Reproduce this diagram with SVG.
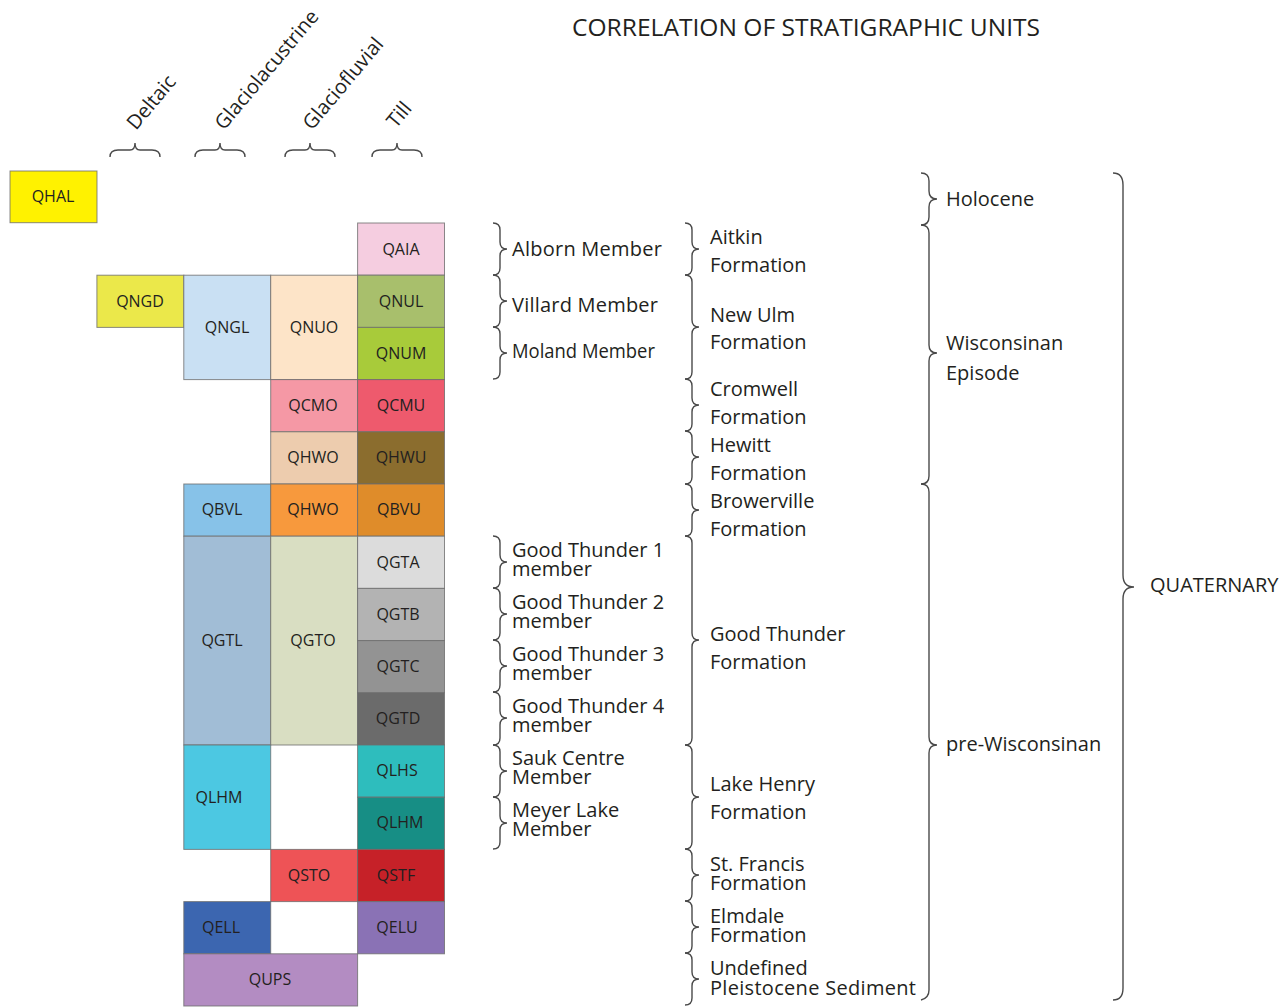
<svg xmlns="http://www.w3.org/2000/svg" width="1282" height="1008" viewBox="0 0 1282 1008">
<style>
text{font-family:"Open Sans","Liberation Sans",sans-serif;fill:#231f20}
.u rect{stroke:#6d6d6d;stroke-width:1;stroke-opacity:0.8}
.u text{font-size:16px;text-anchor:middle}
.b{fill:none;stroke:#4a4a4a;stroke-width:1.4}
.h{font-size:20px}
.m{font-size:20px}
</style>
<rect width="1282" height="1008" fill="#fff"/>
<text x="572" y="36" font-size="24" textLength="468" lengthAdjust="spacingAndGlyphs">CORRELATION OF STRATIGRAPHIC UNITS</text>
<g id="headers">
<text class="h" transform="translate(136,131) rotate(-50)">Deltaic</text>
<text class="h" transform="translate(224,131) rotate(-50)">Glaciolacustrine</text>
<text class="h" transform="translate(312,131) rotate(-50)">Glaciofluvial</text>
<text class="h" transform="translate(396,129) rotate(-50)">Till</text>
</g>
<g id="connectors">
<path class="b" d="M110,157 Q110,150 118,150 L130,150 Q135,150 135,143 Q135,150 140,150 L152,150 Q160,150 160,157"/>
<path class="b" d="M195,157 Q195,150 203,150 L215,150 Q220,150 220,143 Q220,150 225,150 L237,150 Q245,150 245,157"/>
<path class="b" d="M285,157 Q285,150 293,150 L305,150 Q310,150 310,143 Q310,150 315,150 L327,150 Q335,150 335,157"/>
<path class="b" d="M372,157 Q372,150 380,150 L392,150 Q397,150 397,143 Q397,150 402,150 L414,150 Q422,150 422,157"/>
<path class="b" d="M493,223 Q500,223 500,230 L500,242 Q500,249 507,249 Q500,249 500,256 L500,268 Q500,275 493,275"/>
<path class="b" d="M493,275 Q500,275 500,282 L500,294 Q500,301 507,301 Q500,301 500,308 L500,320 Q500,327 493,327"/>
<path class="b" d="M493,327 Q500,327 500,334 L500,346 Q500,353 507,353 Q500,353 500,360 L500,372 Q500,379 493,379"/>
<path class="b" d="M493,536 Q500,536 500,543 L500,555 Q500,562 507,562 Q500,562 500,569 L500,581 Q500,588 493,588"/>
<path class="b" d="M493,588 Q500,588 500,595 L500,607 Q500,614 507,614 Q500,614 500,621 L500,633 Q500,640 493,640"/>
<path class="b" d="M493,640 Q500,640 500,647 L500,659 Q500,666 507,666 Q500,666 500,673 L500,685 Q500,692 493,692"/>
<path class="b" d="M493,692 Q500,692 500,699 L500,711 Q500,718 507,718 Q500,718 500,725 L500,738 Q500,745 493,745"/>
<path class="b" d="M493,745 Q500,745 500,752 L500,764 Q500,771 507,771 Q500,771 500,778 L500,790 Q500,797 493,797"/>
<path class="b" d="M493,797 Q500,797 500,804 L500,816 Q500,823 507,823 Q500,823 500,830 L500,842 Q500,849 493,849"/>
<path class="b" d="M685,223 Q692,223 692,230 L692,242 Q692,249 699,249 Q692,249 692,256 L692,268 Q692,275 685,275"/>
<path class="b" d="M685,275 Q692,275 692,282 L692,320 Q692,327 699,327 Q692,327 692,334 L692,372 Q692,379 685,379"/>
<path class="b" d="M685,379 Q692,379 692,386 L692,398 Q692,405 699,405 Q692,405 692,412 L692,424 Q692,431 685,431"/>
<path class="b" d="M685,431 Q692,431 692,438 L692,450 Q692,457 699,457 Q692,457 692,464 L692,477 Q692,484 685,484"/>
<path class="b" d="M685,484 Q692,484 692,491 L692,503 Q692,510 699,510 Q692,510 692,517 L692,529 Q692,536 685,536"/>
<path class="b" d="M685,536 Q692,536 692,543 L692,633 Q692,640 699,640 Q692,640 692,647 L692,738 Q692,745 685,745"/>
<path class="b" d="M685,745 Q692,745 692,752 L692,790 Q692,797 699,797 Q692,797 692,804 L692,842 Q692,849 685,849"/>
<path class="b" d="M685,849 Q692,849 692,856 L692,868 Q692,875 699,875 Q692,875 692,882 L692,894 Q692,901 685,901"/>
<path class="b" d="M685,901 Q692,901 692,908 L692,920 Q692,927 699,927 Q692,927 692,934 L692,946 Q692,953 685,953"/>
<path class="b" d="M685,953 Q692,953 692,960 L692,972 Q692,979 699,979 Q692,979 692,986 L692,998 Q692,1005 685,1005"/>
<path class="b" d="M921,173 Q929,173 929,181 L929,191 Q929,199 937,199 Q929,199 929,207 L929,217 Q929,225 921,225"/>
<path class="b" d="M921,225 Q929,225 929,233 L929,345 Q929,353 937,353 Q929,353 929,361 L929,476 Q929,484 921,484"/>
<path class="b" d="M921,484 Q929,484 929,492 L929,737 Q929,745 937,745 Q929,745 929,753 L929,990 Q929,998 921,1000"/>
<path class="b" d="M1113,173 Q1123,173 1123,185 L1123,575 Q1123,587 1134,587 Q1123,587 1123,599 L1123,988 Q1123,1000 1113,1000"/>
</g>
<g class="u">
<g id="QHAL"><rect x="10" y="171" width="87" height="51.7" fill="#fff200"/><text x="53" y="202">QHAL</text></g>
<g id="QAIA"><rect x="357.6" y="223" width="86.9" height="52.2" fill="#f5cde0"/><text x="401" y="254.5">QAIA</text></g>
<g id="QNGD"><rect x="96.9" y="275.2" width="86.9" height="52.2" fill="#ebe84a"/><text x="140" y="306.5">QNGD</text></g>
<g id="QNGL"><rect x="183.8" y="275.2" width="86.9" height="104.4" fill="#c9e0f3"/><text x="227" y="332.5">QNGL</text></g>
<g id="QNUO"><rect x="270.7" y="275.2" width="86.9" height="104.4" fill="#fde4c8"/><text x="314" y="332.5">QNUO</text></g>
<g id="QNUL"><rect x="357.6" y="275.2" width="86.9" height="52.2" fill="#a8bf6c"/><text x="401" y="306.5">QNUL</text></g>
<g id="QNUM"><rect x="357.6" y="327.4" width="86.9" height="52.2" fill="#a8cb3a"/><text x="401" y="358.5">QNUM</text></g>
<g id="QCMO"><rect x="270.7" y="379.6" width="86.9" height="52.2" fill="#f598a5"/><text x="313" y="411">QCMO</text></g>
<g id="QCMU"><rect x="357.6" y="379.6" width="86.9" height="52.2" fill="#ee5a6d"/><text x="401" y="411">QCMU</text></g>
<g id="QHWO"><rect x="270.7" y="431.8" width="86.9" height="52.2" fill="#edccae"/><text x="313" y="463">QHWO</text></g>
<g id="QHWU"><rect x="357.6" y="431.8" width="86.9" height="52.2" fill="#8b6d2e"/><text x="401" y="463">QHWU</text></g>
<g id="QBVL"><rect x="183.8" y="484" width="86.9" height="52.2" fill="#87c2e8"/><text x="222" y="515">QBVL</text></g>
<g id="QHWO-2"><rect x="270.7" y="484" width="86.9" height="52.2" fill="#f7993d"/><text x="313" y="515">QHWO</text></g>
<g id="QBVU"><rect x="357.6" y="484" width="86.9" height="52.2" fill="#df8c2a"/><text x="399" y="515">QBVU</text></g>
<g id="QGTL"><rect x="183.8" y="536.2" width="86.9" height="208.8" fill="#a1bdd6"/><text x="222" y="646">QGTL</text></g>
<g id="QGTO"><rect x="270.7" y="536.2" width="86.9" height="208.8" fill="#d9dec2"/><text x="313" y="646">QGTO</text></g>
<g id="QGTA"><rect x="357.6" y="536.2" width="86.9" height="52.2" fill="#dcdcdc"/><text x="398" y="567.5">QGTA</text></g>
<g id="QGTB"><rect x="357.6" y="588.4" width="86.9" height="52.2" fill="#b3b3b3"/><text x="398" y="619.5">QGTB</text></g>
<g id="QGTC"><rect x="357.6" y="640.6" width="86.9" height="52.2" fill="#939393"/><text x="398" y="671.5">QGTC</text></g>
<g id="QGTD"><rect x="357.6" y="692.8" width="86.9" height="52.2" fill="#6b6b6b"/><text x="398" y="724">QGTD</text></g>
<g id="QLHM-L"><rect x="183.8" y="745" width="86.9" height="104.4" fill="#4cc8e2"/><text x="219" y="802.5">QLHM</text></g>
<g id="QLHS"><rect x="357.6" y="745" width="86.9" height="52.2" fill="#2ebdbd"/><text x="397" y="776">QLHS</text></g>
<g id="QLHM"><rect x="357.6" y="797.2" width="86.9" height="52.2" fill="#178e85"/><text x="400" y="828">QLHM</text></g>
<g id="QSTO"><rect x="270.7" y="849.4" width="86.9" height="52.2" fill="#ee5356"/><text x="309" y="880.5">QSTO</text></g>
<g id="QSTF"><rect x="357.6" y="849.4" width="86.9" height="52.2" fill="#c62128"/><text x="396" y="880.5">QSTF</text></g>
<g id="QELL"><rect x="183.8" y="901.6" width="86.9" height="52.2" fill="#3c66b0"/><text x="221" y="933">QELL</text></g>
<g id="QELU"><rect x="357.6" y="901.6" width="86.9" height="52.2" fill="#8a72b5"/><text x="397" y="933">QELU</text></g>
<g id="QUPS"><rect x="183.8" y="953.8" width="173.8" height="52.2" fill="#b38cc2"/><text x="270" y="985">QUPS</text></g>
</g>
<g id="members" class="m">
<text x="512" y="256" textLength="150">Alborn Member</text>
<text x="512" y="312" textLength="146">Villard Member</text>
<text x="512" y="358" textLength="143" lengthAdjust="spacingAndGlyphs">Moland Member</text>
<text x="512" y="557">Good Thunder 1</text><text x="512" y="576">member</text>
<text x="512" y="609">Good Thunder 2</text><text x="512" y="628">member</text>
<text x="512" y="661">Good Thunder 3</text><text x="512" y="680">member</text>
<text x="512" y="713">Good Thunder 4</text><text x="512" y="732">member</text>
<text x="512" y="765">Sauk Centre</text><text x="512" y="784">Member</text>
<text x="512" y="817">Meyer Lake</text><text x="512" y="836">Member</text>
</g>
<g id="formations" class="m">
<text x="710" y="244">Aitkin</text><text x="710" y="272">Formation</text>
<text x="710" y="322">New Ulm</text><text x="710" y="349">Formation</text>
<text x="710" y="396">Cromwell</text><text x="710" y="424">Formation</text>
<text x="710" y="452">Hewitt</text><text x="710" y="480">Formation</text>
<text x="710" y="508">Browerville</text><text x="710" y="536">Formation</text>
<text x="710" y="641">Good Thunder</text><text x="710" y="669">Formation</text>
<text x="710" y="791">Lake Henry</text><text x="710" y="819">Formation</text>
<text x="710" y="871">St. Francis</text><text x="710" y="890">Formation</text>
<text x="710" y="923">Elmdale</text><text x="710" y="942">Formation</text>
<text x="710" y="975">Undefined</text><text x="710" y="995" textLength="206">Pleistocene Sediment</text>
</g>
<g id="episodes" class="m">
<text x="946" y="206">Holocene</text>
<text x="946" y="350">Wisconsinan</text><text x="946" y="380">Episode</text>
<text x="946" y="751">pre-Wisconsinan</text>
<text x="1150" y="592">QUATERNARY</text>
</g>
</svg>
